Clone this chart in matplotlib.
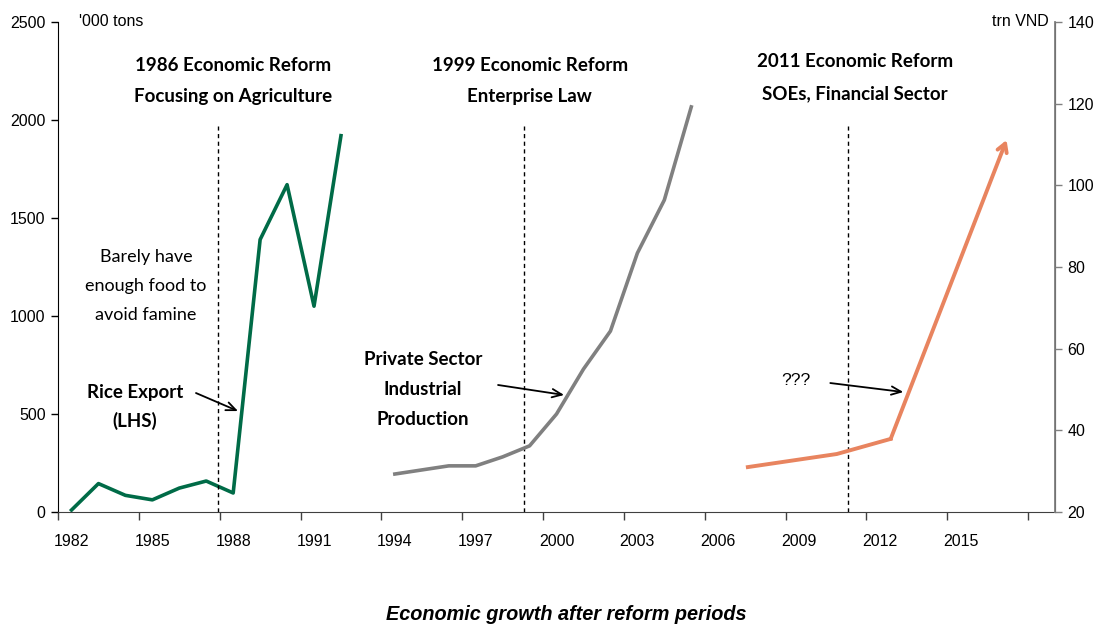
import numpy as np
import matplotlib
matplotlib.use("Agg")
import matplotlib.pyplot as plt

# Rice export ('000 tons, LHS)
rice_years = [1982, 1983, 1984, 1985, 1986, 1987, 1988, 1989, 1990, 1991, 1992]
rice_export = [10, 145, 85, 62, 122, 158, 97, 1390, 1670, 1050, 1920]

# Private sector industrial production (trn VND, RHS)
priv_years = [1994, 1995, 1996, 1997, 1998, 1999, 2000, 2001, 2002, 2003, 2004, 2005]
priv_prod = [29.3, 30.3, 31.3, 31.3, 33.5, 36.2, 44.0, 55.0, 64.3, 83.4, 96.4, 119.2]

# Hypothetical path after 2011 reform (RHS)
proj_years = [2007.1, 2010.4, 2012.4, 2016.7]
proj_vals = [31.0, 34.2, 37.9, 111.1]

reform_years = [1987.45, 1998.78, 2010.8]
xtick_labels = [str(y) for y in range(1982, 2016, 3)]

GREEN = "#006b47"
GRAY = "#808080"
ORANGE = "#e8845f"
BOLD_FONT = "Lato"

plt.rcParams['font.family'] = ['Liberation Sans', 'DejaVu Sans']

fig = plt.figure(figsize=(10.99, 6.25), dpi=100)
ax = fig.add_axes([0.0528, 0.1808, 0.9072, 0.784])
ax2 = ax.twinx()

ax.plot(rice_years, rice_export, color=GREEN, lw=2.6)
ax2.plot(priv_years, priv_prod, color=GRAY, lw=2.6)
ax2.plot(proj_years[:-1], proj_vals[:-1], color=ORANGE, lw=2.8)
ax2.annotate("", xy=(proj_years[-1], proj_vals[-1]), xytext=(proj_years[-2], proj_vals[-2]),
             arrowprops=dict(arrowstyle="->,head_length=0.6,head_width=0.35", color=ORANGE, lw=2.8,
                             shrinkA=0, shrinkB=0))

# Reform markers
for yr in reform_years:
    ax.axvline(yr, ymin=0, ymax=0.788, color="black", lw=1, ls=(0, (3, 2.5)))

# Axes limits and ticks
ax.set_xlim(1981.5, 2018.5)
ax.set_ylim(0, 2500)
ax2.set_ylim(20, 140)
ax.set_yticks(range(0, 2501, 500))
ax2.set_yticks(range(20, 141, 20))

ax.set_xticks(np.arange(1981.5, 2018, 3))
ax.set_xticklabels([])
ax.set_xticks(np.arange(1982, 2016, 3), minor=True)
ax.set_xticklabels(xtick_labels, minor=True)
ax.tick_params(axis='x', which='major', direction='out', length=6, width=1, color='#404040')
ax.tick_params(axis='x', which='minor', length=0, pad=16, labelsize=11.5)
ax.tick_params(axis='y', direction='out', length=5, width=1, labelsize=11.5, pad=4)
ax2.tick_params(axis='y', direction='out', length=5, width=1, labelsize=11.5, color='#808080', pad=4)

for a in (ax, ax2):
    a.spines['top'].set_visible(False)
ax.spines['left'].set_color('black')
ax.spines['bottom'].set_color('#404040')
ax2.spines['right'].set_color('#808080')
ax2.spines['right'].set_linewidth(1.3)
ax2.spines['left'].set_visible(False)
ax2.spines['bottom'].set_visible(False)

# Axis unit labels
ax.text(1982.28, 2500, "'000 tons", ha='left', va='center', fontsize=11.5)
ax.text(2018.25, 2500, "trn VND", ha='right', va='center', fontsize=11.5)

# Reform headings
bold = dict(fontfamily=BOLD_FONT, fontweight='bold', fontsize=13.5, ha='center', va='center')
ax.text(1988.0, 2280, "1986 Economic Reform", **bold)
ax.text(1988.0, 2120, "Focusing on Agriculture", **bold)
ax.text(1999.0, 2280, "1999 Economic Reform", **bold)
ax.text(1999.0, 2120, "Enterprise Law", **bold)
ax.text(2011.08, 2296, "2011 Economic Reform", **bold)
ax.text(2011.08, 2136, "SOEs, Financial Sector", **bold)

ax.text(1984.77, 1153, "Barely have\nenough food to\navoid famine", ha='center', va='center',
        fontfamily=BOLD_FONT, fontsize=13, linespacing=2.0)
ax.text(1984.36, 536, "Rice Export\n(LHS)", ha='center', va='center',
        fontfamily=BOLD_FONT, fontweight='bold', fontsize=13.5, linespacing=1.75)
ax.text(1995.05, 625, "Private Sector\nIndustrial\nProduction", ha='center', va='center',
        fontfamily=BOLD_FONT, fontweight='bold', fontsize=13.5, linespacing=1.95)
ax.text(2008.9, 673, "???", ha='center', va='center', fontsize=12.5)

# Pointer arrows
arrow = dict(arrowstyle="->,head_length=0.7,head_width=0.3", color="black", lw=1.3,
             shrinkA=0, shrinkB=0)
ax.annotate("", xy=(1988.18, 515), xytext=(1986.62, 607), arrowprops=arrow)
ax.annotate("", xy=(2000.28, 597), xytext=(1997.83, 648), arrowprops=arrow)
ax.annotate("", xy=(2012.87, 612), xytext=(2010.16, 658), arrowprops=arrow)

fig.text(0.515, 0.017, "Economic growth after reform periods", ha='center', va='center',
         fontsize=14.3, fontweight='bold', fontstyle='italic')

fig.savefig("out.png", dpi=100)
